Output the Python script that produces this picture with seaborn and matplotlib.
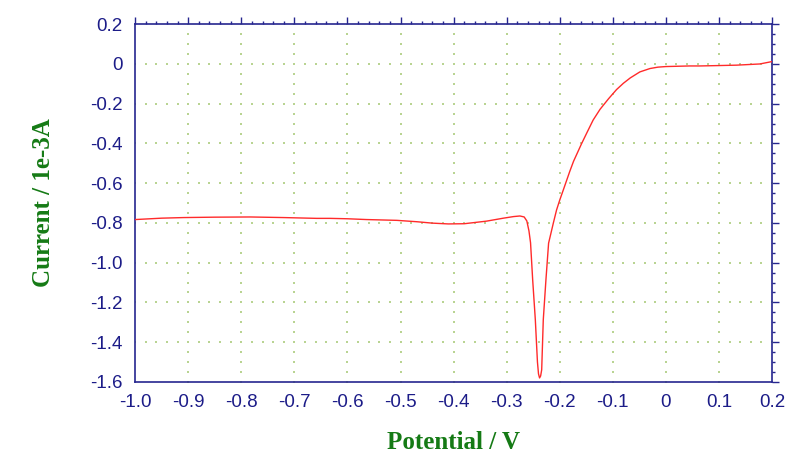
import matplotlib.pyplot as plt
import seaborn as sns
import pandas as pd
import numpy as np

# Data (potential in V, current in 1e-3 A)
potential = [-1.0, -0.95, -0.909, -0.85, -0.783, -0.72, -0.658, -0.633, -0.6, -0.564,
             -0.507, -0.469, -0.44, -0.41, -0.38, -0.338, -0.306, -0.287, -0.275, -0.267,
             -0.262, -0.258, -0.255, -0.251, -0.246, -0.242, -0.240, -0.238, -0.236, -0.234,
             -0.231, -0.226, -0.221, -0.212, -0.206, -0.200, -0.193, -0.181, -0.174, -0.159,
             -0.149, -0.137, -0.124, -0.108, -0.093, -0.08, -0.067, -0.049, -0.030, -0.015,
             0.0, 0.045, 0.064, 0.1, 0.133, 0.177, 0.2]
current = [-0.783, -0.776, -0.773, -0.771, -0.770, -0.773, -0.777, -0.777, -0.779, -0.783,
           -0.787, -0.794, -0.801, -0.805, -0.804, -0.791, -0.776, -0.768, -0.765, -0.770,
           -0.790, -0.84, -0.90, -1.086, -1.287, -1.50, -1.56, -1.58, -1.57, -1.539,
           -1.287, -1.086, -0.902, -0.80, -0.735, -0.685, -0.632, -0.540, -0.490, -0.402,
           -0.347, -0.282, -0.228, -0.175, -0.129, -0.097, -0.070, -0.040, -0.023, -0.016,
           -0.013, -0.010, -0.010, -0.008, -0.006, 0.0, 0.012]

x_major = [-1.0, -0.9, -0.8, -0.7, -0.6, -0.5, -0.4, -0.3, -0.2, -0.1, 0.0, 0.1, 0.2]
y_major = [0.2, 0, -0.2, -0.4, -0.6, -0.8, -1.0, -1.2, -1.4, -1.6]
x_labels = ['-1.0', '-0.9', '-0.8', '-0.7', '-0.6', '-0.5', '-0.4', '-0.3', '-0.2', '-0.1', '0', '0.1', '0.2']
y_labels = ['0.2', '0', '-0.2', '-0.4', '-0.6', '-0.8', '-1.0', '-1.2', '-1.4', '-1.6']

df = pd.DataFrame({'Potential': potential, 'Current': current})

sns.set_style("white")
plt.rcParams['font.family'] = ['Liberation Sans', 'DejaVu Sans']

axis_col = '#26268f'
label_col = '#157a15'

fig = plt.figure(figsize=(8, 4.75), dpi=100)
ax = fig.add_axes([0.169, 0.196, 0.796, 0.753])

# dotted grid: dots at minor positions along major lines
x_minor = np.arange(-1.0, 0.2001, 0.02)
y_minor = np.arange(-1.6, 0.2001, 0.05)
gx, gy = np.meshgrid(x_minor, y_major[1:-1])
ax.scatter(gx.ravel(), gy.ravel(), s=1.0, marker='s', color='#b9d492', linewidths=0, zorder=1)
gx, gy = np.meshgrid(x_major[1:-1], y_minor)
ax.scatter(gx.ravel(), gy.ravel(), s=1.0, marker='s', color='#b9d492', linewidths=0, zorder=1)

sns.lineplot(data=df, x='Potential', y='Current', color='#ff2a2a', linewidth=1.0, ax=ax, zorder=3)

ax.set_xlim(-1.0, 0.2)
ax.set_ylim(-1.6, 0.2)
ax.set_xticks(x_major)
ax.set_xticklabels(x_labels)
ax.set_yticks(y_major)
ax.set_yticklabels(y_labels)
ax.set_xticks(x_minor, minor=True)
ax.set_yticks(y_minor, minor=True)

for s in ax.spines.values():
    s.set_color(axis_col)
    s.set_linewidth(1.2)

ax.tick_params(which='both', direction='out', colors=axis_col, top=True, right=True,
               labeltop=False, labelright=False)
ax.tick_params(which='major', length=5, width=1, labelsize=13.5, labelcolor='#1c1c88', pad=4)
ax.tick_params(which='minor', length=2.5, width=1)

ax.set_xlabel('Potential / V', fontsize=18, fontweight='bold', color=label_col,
              family=['Liberation Serif'], labelpad=14)
ax.set_ylabel('Current / 1e-3A', fontsize=18, fontweight='bold', color=label_col,
              family=['Liberation Serif'], labelpad=25)

fig.savefig('out.png', dpi=100)
